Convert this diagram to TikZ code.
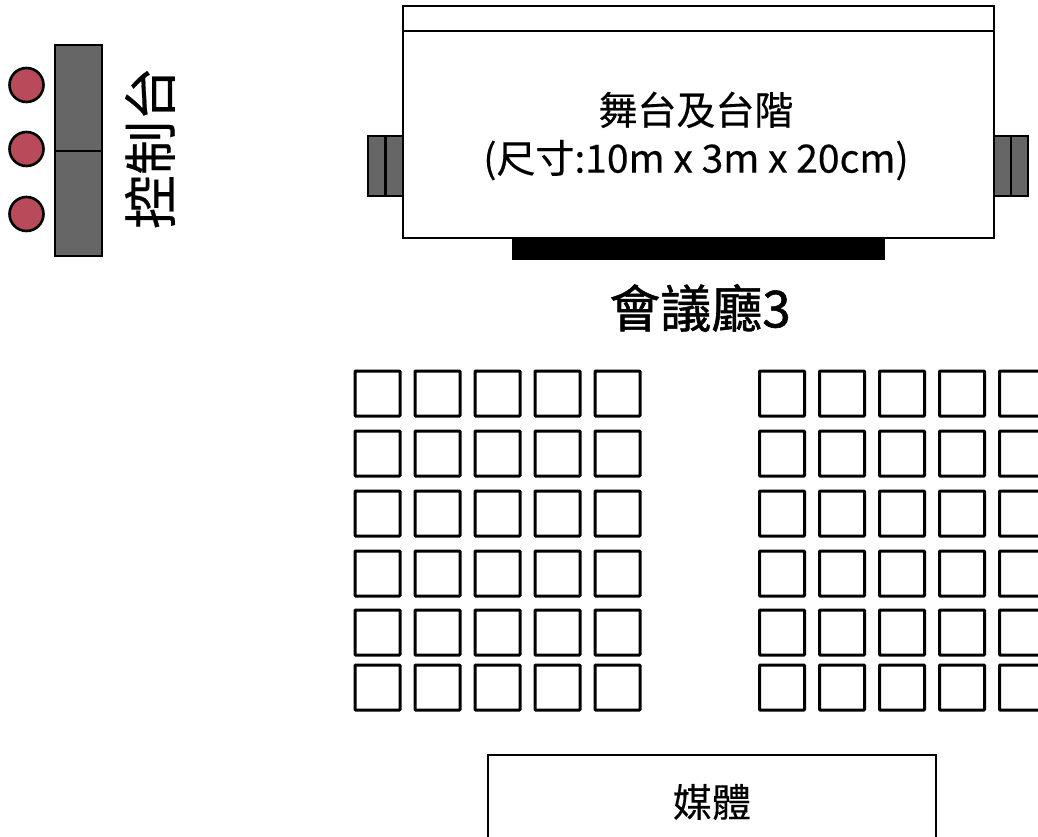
\documentclass[tikz,border=0pt]{standalone}
\usepackage{fontspec}
\setmainfont{Noto Sans CJK TC}
\newfontfamily\medfont[FakeBold=0.35]{Noto Sans CJK TC}
\newfontfamily\semifont[FakeBold=1.1]{Noto Sans CJK TC}
\definecolor{panel}{HTML}{666666}
\definecolor{marker}{HTML}{B84A5A}
\tikzset{
  x=1pt,y=-1pt,
  box/.style={draw=black,line width=2.6pt,fill=white},
  graybox/.style={draw=black,line width=2.6pt,fill=panel},
  seat/.style={draw=black,line width=3pt,fill=white,rounded corners=0.8pt,minimum size=45pt,inner sep=0pt,outer sep=0pt,anchor=north west},
  dot/.style={circle,draw=black,line width=2.6pt,fill=marker,minimum size=34pt,inner sep=0pt},
  label/.style={inner sep=0pt,align=center,text=black}
}
\begin{document}
\begin{tikzpicture}
\useasboundingbox (0,0) rectangle (1038,836);
\clip (0,0) rectangle (1038,836);
% control desk
\draw[graybox] (55,45) rectangle (102,256);
\draw[graybox] (55,151) -- (102,151);
\node[dot] (d1) at (26.5,85) {};
\node[dot] (d2) at (26.5,149) {};
\node[dot] (d3) at (26.5,214) {};
\node[label,rotate=90,font=\medfont\fontsize{54pt}{56pt}\selectfont] (ctl) at (150,148) {控制台};
% stage side steps
\draw[graybox] (368,136) rectangle (403,196);
\draw[graybox] (385.5,136) -- (385.5,196);
\draw[graybox] (994,136) rectangle (1028,196);
\draw[graybox] (1011,136) -- (1011,196);
% stage
\draw[box] (403,6) rectangle (994,238);
\draw[box] (403,31) -- (994,31);
\fill[black] (512,238) rectangle (885,260);
\node[label,font=\medfont\fontsize{39pt}{48pt}\selectfont] (stage) at (696,136) {舞台及台階\\(尺寸:10m x 3m x 20cm)};
\node[label,font=\semifont\fontsize{51pt}{56pt}\selectfont] (hall) at (700,308) {會議廳3};
% seats
\foreach \r/\y in {1/371,2/431,3/491,4/551,5/610,6/665} {
  \foreach \c/\x in {1/355,2/415,3/475,4/535,5/595} {
    \node[seat] (l\r\c) at (\x,\y) {};
  }
  \foreach \c/\x in {1/759.5,2/819.5,3/879.5,4/939.5,5/999.5} {
    \node[seat] (r\r\c) at (\x,\y) {};
  }
}
% media
\draw[box] (488,845) -- (488,755) -- (936,755) -- (936,845);
\node[label,font=\medfont\fontsize{39pt}{42pt}\selectfont] (media) at (712,802) {媒體};
\end{tikzpicture}
\end{document}
